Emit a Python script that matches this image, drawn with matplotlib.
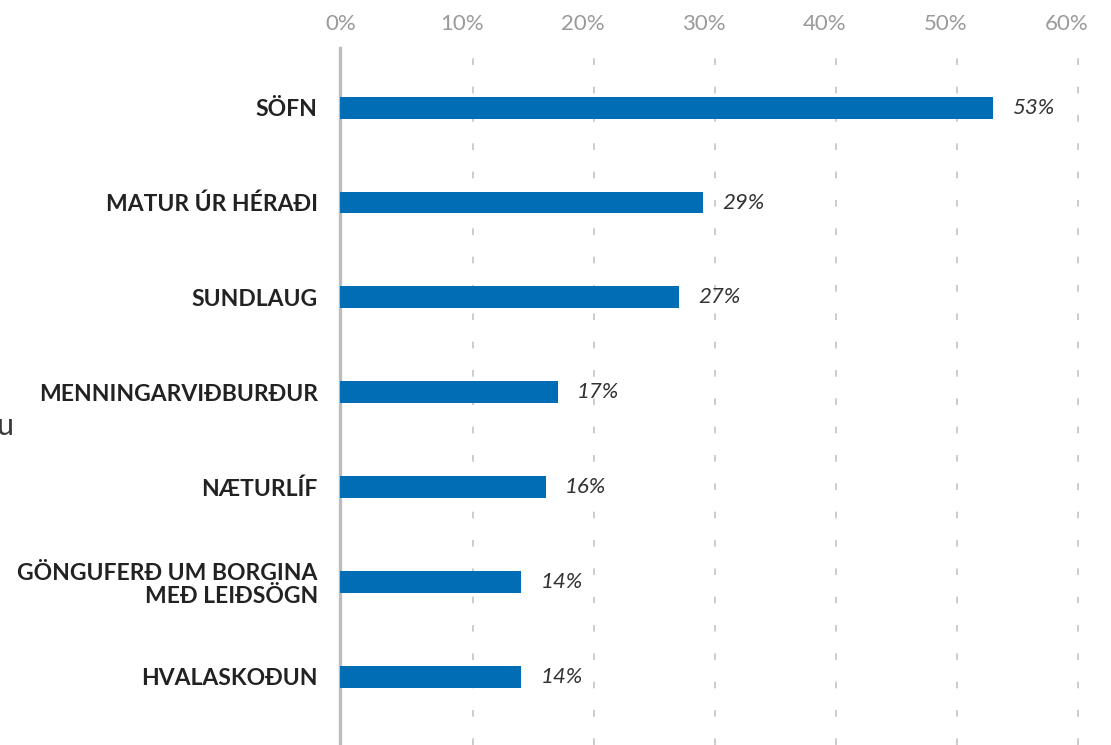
import numpy as np
import matplotlib.pyplot as plt
import matplotlib.transforms as mtransforms

# data
categories = ['SÖFN', 'MATUR ÚR HÉRAÐI', 'SUNDLAUG', 'MENNINGARVIÐBURÐUR',
              'NÆTURLÍF', 'GÖNGUFERÐ UM BORGINA\nMEÐ LEIÐSÖGN', 'HVALASKOÐUN']
values = [53, 29, 27, 17, 16, 14, 14]
ticks = [0, 10, 20, 30, 40, 50, 60]
tick_labels = ['0%', '10%', '20%', '30%', '40%', '50%', '60%']

plt.rcParams['font.family'] = ['Lato', 'DejaVu Sans']
bar_color = '#006db5'
grid_color = '#c4c4c4'

fig = plt.figure(figsize=(11.11, 7.45), dpi=100)
ax = fig.add_axes([340 / 1111, 0, (1085 - 340) / 1111, 1 - 48 / 745])

y = np.arange(len(categories))
# bars start at the spine, which sits a bit left of the 0 mark
base = -1
ax.barh(y, np.array(values) - base, left=base, height=0.23, color=bar_color, zorder=3)

for yi, v in zip(y, values):
    ax.annotate(f'{v}%', (v, yi), xytext=(14, 0), textcoords='offset points',
                va='center', ha='left', fontsize=16, style='italic', color='#333333')

ax.set_xlim(base, 60.6)
ax.set_ylim(6.72, -0.63)

ax.set_yticks(y)
ax.set_yticklabels(categories, fontsize=16.5, fontweight='bold', color='#222222',
                   linespacing=1.1)
ax.tick_params(axis='y', length=0, pad=16)

ax.xaxis.tick_top()
ax.set_xticks(ticks)
ax.set_xticklabels(tick_labels, fontsize=16, color='#9a9a9a')
ax.tick_params(axis='x', length=0, pad=10)
shift = mtransforms.ScaledTranslation(-11 / 100, 0, fig.dpi_scale_trans)
for lab in ax.get_xticklabels():
    lab.set_transform(lab.get_transform() + shift)

# dashed guides, none at the 0 mark
for t in ticks[1:]:
    ax.axvline(t, color=grid_color, linewidth=1.2, linestyle=(0, (4, 13)), zorder=0)

for side in ['top', 'right', 'bottom']:
    ax.spines[side].set_visible(False)
ax.spines['left'].set_color('#bdbdbd')
ax.spines['left'].set_linewidth(2.4)

# cut-off text at the left edge of the original
fig.text(-0.003, 1 - 426 / 745, 'u', fontsize=22, color='#3a3a3a',
         va='center', ha='left')

fig.savefig('out.png', dpi=100)
